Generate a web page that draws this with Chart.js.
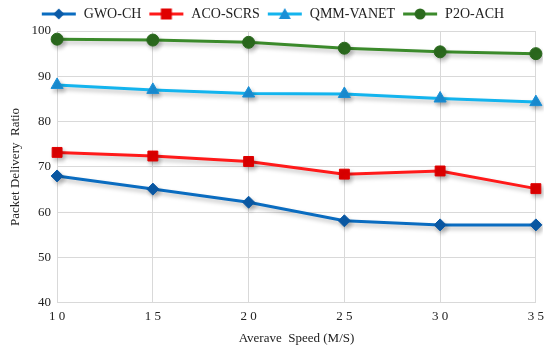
<!DOCTYPE html>
<html><head><meta charset="utf-8">
<script src="https://cdn.jsdelivr.net/npm/chart.js@4/dist/chart.umd.min.js"></script>
<style>html,body{margin:0;padding:0;background:#fff}#wrap{width:550px;height:347px}</style>
</head><body><div id="wrap"><canvas id="c" width="550" height="347"></canvas></div>
<script>
const speeds = ['10','15','20','25','30','35'];
const gwoCH = [68, 65.1, 62.2, 58.1, 57.2, 57.2];
const acoSCRS = [73.2, 72.4, 71.2, 68.4, 69.1, 65.2];
const qmmVANET = [88.1, 87.0, 86.2, 86.1, 85.1, 84.3];
const p2oACH = [98.2, 98.0, 97.5, 96.2, 95.4, 95.0];
const yTicks = [40, 50, 60, 70, 80, 90, 100];

const FONT = "'Liberation Serif', 'Times New Roman', serif";

function legendIcon(lineColor, style, fill) {
  const cv = document.createElement('canvas');
  cv.width = 36; cv.height = 14;
  const g = cv.getContext('2d');
  g.strokeStyle = lineColor; g.lineWidth = 3;
  g.beginPath(); g.moveTo(1, 7); g.lineTo(35, 7); g.stroke();
  g.fillStyle = fill;
  g.beginPath();
  if (style === 'rectRot') { g.moveTo(18, 1.5); g.lineTo(23.5, 7); g.lineTo(18, 12.5); g.lineTo(12.5, 7); g.closePath(); }
  else if (style === 'rect') { g.rect(12.5, 1.5, 11, 11); }
  else if (style === 'triangle') { g.moveTo(18, 1); g.lineTo(24, 12); g.lineTo(12, 12); g.closePath(); }
  else { g.arc(18, 7, 5.5, 0, Math.PI * 2); }
  g.fill();
  return cv;
}

const series = [
  {label: 'GWO-CH', data: gwoCH, color: '#0a6cc0', mk: '#0b5aa6', style: 'rectRot', r: 6},
  {label: 'ACO-SCRS', data: acoSCRS, color: '#ff1a1a', mk: '#e00000', style: 'rect', r: 7},
  {label: 'QMM-VANET', data: qmmVANET, color: '#13b4ee', mk: '#1a8fd6', style: 'triangle', r: 7},
  {label: 'P2O-ACH', data: p2oACH, color: '#3b8a2b', mk: '#2b6a1e', style: 'circle', r: 6}
];

const shadowPlugin = {
  id: 'shadow',
  beforeDatasetsDraw(chart) { const c = chart.ctx; c.save(); c.shadowColor = 'rgba(0,0,0,0.25)'; c.shadowBlur = 4; c.shadowOffsetX = 2; c.shadowOffsetY = 3; },
  afterDatasetsDraw(chart) { chart.ctx.restore(); }
};

new Chart(document.getElementById('c'), {
  type: 'line',
  data: {
    labels: speeds,
    datasets: series.map(s => ({
      label: s.label, data: s.data, borderColor: s.color, backgroundColor: s.mk,
      borderWidth: 3, pointStyle: s.style, pointRadius: s.r, pointHoverRadius: s.r,
      pointBackgroundColor: s.mk, pointBorderColor: s.mk, pointBorderWidth: 1, tension: 0
    }))
  },
  options: {
    responsive: false, animation: false,
    layout: {padding: {left: 8, right: 13, top: 0, bottom: 1}},
    plugins: {
      tooltip: {enabled: false},
      legend: {
        position: 'top', align: 'center',
        labels: {
          usePointStyle: true, pointStyleWidth: 36, padding: 7,
          color: '#222', font: {family: FONT, size: 14},
          generateLabels: (chart) => series.map((s, i) => ({
            text: s.label, fillStyle: s.mk, strokeStyle: s.color, lineWidth: 0,
            pointStyle: legendIcon(s.color, s.style, s.mk), datasetIndex: i, hidden: false, fontColor: '#222'
          }))
        }
      }
    },
    scales: {
      x: {
        type: 'category', offset: false,
        grid: {color: '#d9d9d9', lineWidth: 1, drawTicks: false},
        border: {color: '#d9d9d9'},
        ticks: {color: '#222', font: {family: FONT, size: 13}, padding: 6, maxRotation: 0,
          callback: function(v) { return this.getLabelForValue(v).split('').join(' '); }},
        title: {display: true, text: 'Averave  Speed (M/S)', color: '#222', font: {family: FONT, size: 13}, padding: {top: 0, bottom: 0}}
      },
      y: {
        min: 40, max: 100,
        afterBuildTicks: (ax) => { ax.ticks = yTicks.map(v => ({value: v})); },
        grid: {color: '#d9d9d9', lineWidth: 1, drawTicks: false},
        border: {color: '#d9d9d9'},
        ticks: {color: '#222', font: {family: FONT, size: 13}, padding: 6},
        title: {display: true, text: 'Packet Delivery  Ratio', color: '#222', font: {family: FONT, size: 13}, padding: {top: 0, bottom: 2}}
      }
    }
  },
  plugins: [shadowPlugin]
});
</script></body></html>
